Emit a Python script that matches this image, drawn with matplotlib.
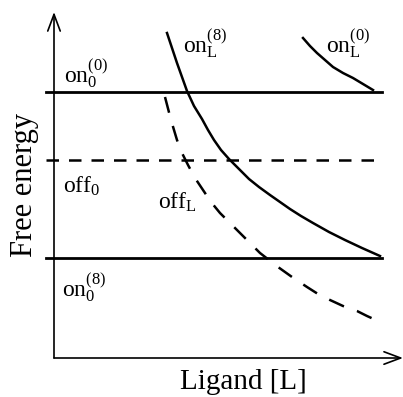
import matplotlib
matplotlib.use("Agg")
import matplotlib.pyplot as plt

plt.rcParams['font.family'] = ['Liberation Serif', 'DejaVu Serif']
plt.rcParams['mathtext.fontset'] = 'custom'
plt.rcParams['mathtext.rm'] = 'Liberation Serif'
plt.rcParams['mathtext.it'] = 'Liberation Serif:italic'

# Energy levels (ligand independent), arbitrary units
level_names = ['on0_0', 'off0', 'on0_8']
level_values = [266, 198, 100]
level_styles = ['solid', 'dashed', 'solid']
level_x = [-8, 328]

# Ligand-dependent curves (x = ligand, y = free energy)
onL8_x = [113, 118, 123, 128, 133, 140, 148, 154, 160, 167, 175, 185, 195, 205, 216, 226, 236, 247, 259, 275, 291, 308, 326]
onL8_y = [325, 310, 295, 281, 267, 252, 239, 228, 218, 208, 199, 189, 179, 171, 163, 156, 149, 142, 135, 126, 118, 110, 102]

offL_x = [111, 117, 123, 128, 134, 141, 149, 157, 166, 176, 186, 196, 206, 215, 224, 238, 253, 264, 276, 289, 303, 313, 324]
offL_y = [261, 238, 218, 205, 193, 180, 168, 156, 145, 135, 125, 115, 105, 98, 91, 81, 71, 64, 58, 52, 47, 42, 37]

onL0_x = [249, 256, 263, 271, 279, 289, 299, 309, 319]
onL0_y = [320, 312, 305, 298, 291, 285, 280, 274, 268]

labels = [
    (r'$\mathrm{on}_0^{(0)}$', 10, 276),
    (r'$\mathrm{off}_0$', 9, 165),
    (r'$\mathrm{on}_0^{(8)}$', 8, 61),
    (r'$\mathrm{off}_\mathrm{L}$', 104, 149),
    (r'$\mathrm{on}_\mathrm{L}^{(8)}$', 129, 305),
    (r'$\mathrm{on}_\mathrm{L}^{(0)}$', 272, 305),
]

fig = plt.figure(figsize=(4.03, 3.97), dpi=100)
ax = fig.add_axes([0, 0, 1, 1])
ax.set_xlim(-54, 349)
ax.set_ylim(-39, 358)
ax.axis('off')

# axes with open arrows
arrow = dict(arrowstyle='->,head_length=1.2,head_width=0.45', lw=1.2, color='black',
             shrinkA=0, shrinkB=0)
ax.annotate('', xy=(0, 346), xytext=(0, 0), arrowprops=arrow)
ax.annotate('', xy=(349, 0), xytext=(0, 0), arrowprops=arrow)

for v, st in zip(level_values, level_styles):
    if st == 'dashed':
        ax.plot(level_x, [v, v], color='black', lw=1.8, dashes=(5, 4))
    else:
        ax.plot(level_x, [v, v], color='black', lw=2.0)

ax.plot(onL8_x, onL8_y, color='black', lw=1.8)
ax.plot(offL_x, offL_y, color='black', lw=1.8, dashes=(6.5, 5.5))
ax.plot(onL0_x, onL0_y, color='black', lw=1.8)

for t, x, y in labels:
    ax.text(x, y, t, fontsize=17, ha='left', va='baseline')

ax.text(-22, 173, 'Free energy', fontsize=22, rotation=90, rotation_mode='anchor',
        ha='center', va='baseline')
ax.text(189, -31, 'Ligand [L]', fontsize=21, ha='center', va='baseline')

fig.savefig('out.png', dpi=100)
